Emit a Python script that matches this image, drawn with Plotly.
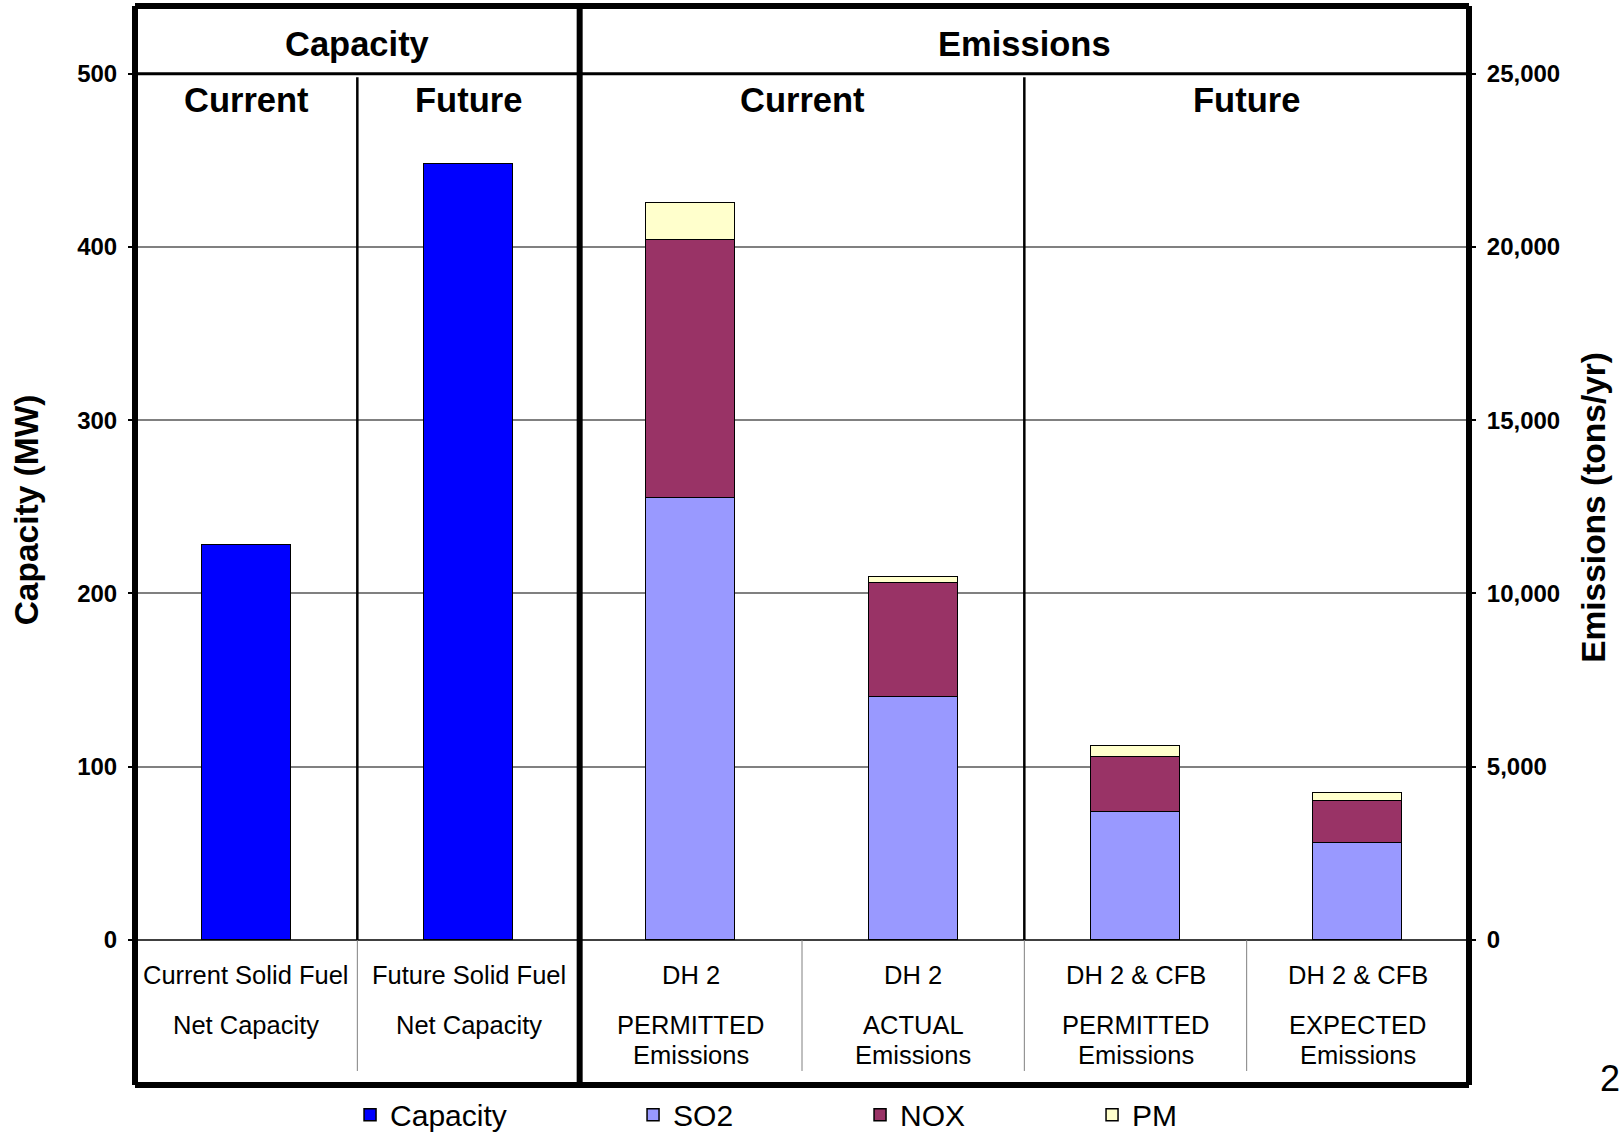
import plotly.graph_objects as go

# ---- data -------------------------------------------------------------
cat_line1 = ["Current Solid Fuel", "Future Solid Fuel", "DH 2", "DH 2", "DH 2 & CFB", "DH 2 & CFB"]
cat_line2 = ["Net Capacity", "Net Capacity", "PERMITTED", "ACTUAL", "PERMITTED", "EXPECTED"]
cat_line3 = ["", "", "Emissions", "Emissions", "Emissions", "Emissions"]

capacity_mw = [228, 448]                 # net capacity, MW
so2_tons = [12750, 7000, 3700, 2790]     # tons/yr
nox_tons = [7450, 3300, 1580, 1210]
pm_tons = [1070, 170, 320, 255]

section_titles = ["Capacity", "Emissions"]
period_titles = ["Current", "Future", "Current", "Future"]

cap_ticks = [0, 100, 200, 300, 400, 500]
em_ticks = [0, 5000, 10000, 15000, 20000, 25000]

# ---- layout constants -------------------------------------------------
FONT = "Liberation Sans, Arial, sans-serif"
CAP_RANGE = [-83.7, 539.1]
EM_SCALE = 50                            # 500 MW  <->  25,000 tons/yr
EM_RANGE = [CAP_RANGE[0] * EM_SCALE, CAP_RANGE[1] * EM_SCALE]

slot_x = [i + 0.5 for i in range(len(cat_line1))]
cap_x = slot_x[:2]
em_x = slot_x[2:]

fig = go.Figure()

bar_line = dict(color="black", width=1.5)
fig.add_trace(go.Bar(x=cap_x, y=capacity_mw, name="Capacity", width=0.4,
                     marker=dict(color="#0000FF", line=bar_line),
                     yaxis="y", legendwidth=238))
fig.add_trace(go.Bar(x=em_x, y=so2_tons, name="SO2", width=0.4,
                     marker=dict(color="#9999FF", line=bar_line),
                     yaxis="y2", legendwidth=182))
fig.add_trace(go.Bar(x=em_x, y=nox_tons, name="NOX", width=0.4,
                     marker=dict(color="#993366", line=bar_line),
                     yaxis="y2", legendwidth=187))
fig.add_trace(go.Bar(x=em_x, y=pm_tons, name="PM", width=0.4,
                     marker=dict(color="#FFFFCC", line=bar_line),
                     yaxis="y2"))

# ---- frame and separators ----------------------------------------------
shapes = []
thick = dict(color="black", width=6)
for x0, y0, x1, y1 in [(0, 0, 0, 1), (1, 0, 1, 1), (0, 1, 1, 1), (0, 0, 1, 0),
                       (1 / 3, 0, 1 / 3, 1)]:
    shapes.append(dict(type="line", xref="paper", yref="paper",
                       x0=x0, y0=y0, x1=x1, y1=y1, line=thick))
# header rule at the top of the value scale
shapes.append(dict(type="line", xref="paper", yref="y", x0=0, x1=1,
                   y0=500, y1=500, line=dict(color="black", width=3)))
# period separators inside each section
for xs in [1, 4]:
    shapes.append(dict(type="line", xref="x", yref="y", x0=xs, x1=xs,
                       y0=0, y1=498, line=dict(color="black", width=2.5)))
# category separators under the baseline
for xs in [1, 3, 4, 5]:
    shapes.append(dict(type="line", xref="x", yref="y", x0=xs, x1=xs,
                       y0=0, y1=-75.6, line=dict(color="#808080", width=1)))

# ---- text ---------------------------------------------------------------
ann = []
hdr_font = dict(family=FONT, size=34.5, color="black")
for title, xc in zip(section_titles, [1, 4]):
    ann.append(dict(x=xc, y=517, xref="x", yref="y", text=f"<b>{title}</b>",
                    showarrow=False, font=hdr_font, yanchor="middle"))
for title, xc in zip(period_titles, [0.5, 1.5, 3, 5]):
    ann.append(dict(x=xc, y=485, xref="x", yref="y", text=f"<b>{title}</b>",
                    showarrow=False, font=hdr_font, yanchor="middle"))

cat_font = dict(family=FONT, size=25.5, color="black")
for xc, t1, t2, t3 in zip(slot_x, cat_line1, cat_line2, cat_line3):
    for txt, yv in [(t1, -20.2), (t2, -49.1), (t3, -66.4)]:
        if txt:
            ann.append(dict(x=xc, y=yv, xref="x", yref="y", text=txt,
                            showarrow=False, font=cat_font, yanchor="middle"))

ttl_font = dict(family=FONT, size=33.5, color="black")
ann.append(dict(x=-0.0817, y=248, xref="paper", yref="y", text="<b>Capacity (MW)</b>",
                textangle=-90, showarrow=False, font=ttl_font,
                xanchor="center", yanchor="middle"))
ann.append(dict(x=1.0937, y=250, xref="paper", yref="y", text="<b>Emissions (tons/yr)</b>",
                textangle=-90, showarrow=False, font=ttl_font,
                xanchor="center", yanchor="middle"))
ann.append(dict(x=1.1057, y=-79.7, xref="paper", yref="y", text="2",
                showarrow=False, font=dict(family=FONT, size=36, color="black"),
                xanchor="center", yanchor="middle"))

tick_font = dict(family=FONT, size=24, color="black")
fig.update_layout(
    width=1623, height=1135,
    margin=dict(l=135, r=154, t=6, b=50, autoexpand=False),
    paper_bgcolor="white", plot_bgcolor="white",
    barmode="stack",
    bargap=0,
    showlegend=True,
    legend=dict(orientation="h", x=0.1612, xanchor="left", y=-0.0275, yanchor="middle",
                traceorder="normal", font=dict(family=FONT, size=30, color="black"),
                bgcolor="rgba(0,0,0,0)", borderwidth=0),
    xaxis=dict(range=[0, 6], showticklabels=False, showgrid=False, zeroline=False,
               ticks="", fixedrange=True),
    yaxis=dict(range=CAP_RANGE, tickvals=cap_ticks, ticktext=[f"<b>{v}</b>" for v in cap_ticks],
               ticks="outside", ticklen=6, tickcolor="black", tickwidth=1.5,
               tickfont=tick_font, ticklabelstandoff=6,
               showgrid=True, gridcolor="#808080", gridwidth=1.5,
               zeroline=True, zerolinecolor="#404040", zerolinewidth=1.5,
               showline=False),
    yaxis2=dict(range=EM_RANGE, overlaying="y", side="right", tickvals=em_ticks,
                ticktext=[f"<b>{v:,}</b>" for v in em_ticks],
                ticks="outside", ticklen=6, tickcolor="black", tickwidth=1.5,
                tickfont=tick_font, ticklabelstandoff=6,
                showgrid=False, zeroline=False, showline=False),
    shapes=shapes,
    annotations=ann,
    font=dict(family=FONT, color="black"),
)

fig.write_html("out.html")
